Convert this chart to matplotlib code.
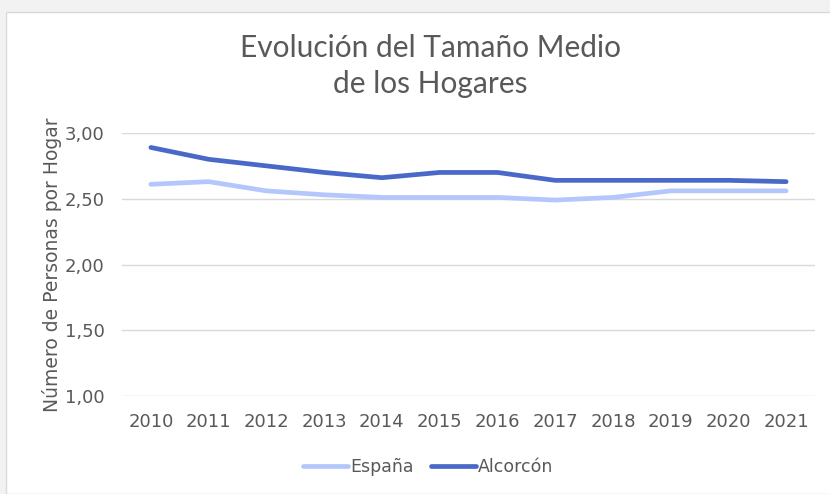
import matplotlib
matplotlib.use('Agg')
import matplotlib.pyplot as plt
from matplotlib.patches import Rectangle

years = ['2010', '2011', '2012', '2013', '2014', '2015', '2016', '2017', '2018', '2019', '2020', '2021']
espana = [2.61, 2.63, 2.56, 2.53, 2.51, 2.51, 2.51, 2.49, 2.51, 2.56, 2.56, 2.56]
alcorcon = [2.89, 2.80, 2.75, 2.70, 2.66, 2.70, 2.70, 2.64, 2.64, 2.64, 2.64, 2.63]
yticks = [1.0, 1.5, 2.0, 2.5, 3.0]
ytick_labels = ['1,00', '1,50', '2,00', '2,50', '3,00']

plt.rcParams['font.family'] = ['DejaVu Sans']

fig = plt.figure(figsize=(8.3, 4.94), dpi=100, facecolor='#f2f2f2')
fig.patches.append(Rectangle((6 / 830, 0), 1, 1 - 12 / 494, transform=fig.transFigure,
                             facecolor='white', edgecolor='#d9d9d9', linewidth=1, zorder=-10))

ax = fig.add_axes([122 / 830, 1 - 396 / 494, (815 - 122) / 830, (396 - 133) / 494])
ax.set_facecolor('none')

x = list(range(len(years)))
ax.plot(x, espana, color='#b4c7fd', linewidth=3.4, solid_capstyle='round', label='España')
ax.plot(x, alcorcon, color='#4a68c8', linewidth=3.4, solid_capstyle='round', label='Alcorcón')

ax.set_xlim(-0.5, len(years) - 0.5)
ax.set_ylim(1.0, 3.0)
ax.set_yticks(yticks)
ax.set_yticklabels(ytick_labels)
ax.set_xticks(x)
ax.set_xticklabels(years)
ax.grid(axis='y', color='#d9d9d9', linewidth=1)
ax.set_axisbelow(True)
for s in ax.spines.values():
    s.set_visible(False)
ax.tick_params(length=0, labelsize=13, colors='#595959')
ax.tick_params(axis='x', pad=12)
ax.tick_params(axis='y', pad=12.5)

ax.set_ylabel('Número de Personas por Hogar', fontsize=13.5, color='#595959', labelpad=2)

cx = 430 / 830
fig.text(cx, 1 - 48 / 494, 'Evolución del Tamaño Medio', family=['Lato', 'DejaVu Sans'],
         ha='center', va='center', fontsize=21.5, color='#595959')
fig.text(cx, 1 - 84 / 494, 'de los Hogares', family=['Lato', 'DejaVu Sans'],
         ha='center', va='center', fontsize=21.5, color='#595959')

fig.legend(loc='center', bbox_to_anchor=(428 / 830, 1 - 467 / 494), ncol=2, frameon=False,
           fontsize=12.5, handlelength=2.6, handletextpad=0.1, columnspacing=1.0,
           labelcolor='#595959')

fig.savefig('out.png', dpi=100, facecolor=fig.get_facecolor())
